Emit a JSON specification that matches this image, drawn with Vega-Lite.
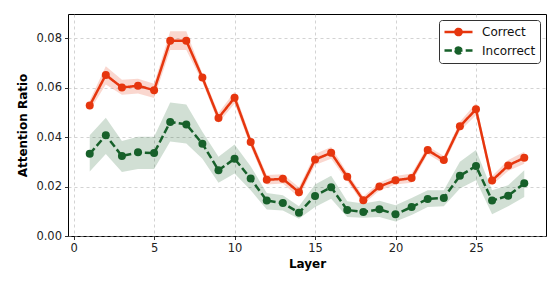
{
  "$schema": "https://vega.github.io/schema/vega-lite/v6.json",
  "width": 478,
  "height": 222,
  "autosize": "none",
  "padding": {"left": 68, "top": 14, "right": 14, "bottom": 53},
  "background": "white",
  "config": {
    "font": "DejaVu Sans",
    "view": {"stroke": "black", "strokeWidth": 1},
    "axis": {
      "labelFont": "DejaVu Sans", "labelFontSize": 11.5, "labelColor": "#222",
      "titleFont": "DejaVu Sans", "titleFontSize": 12, "titleFontWeight": "bold", "titleColor": "black",
      "domain": false, "tickColor": "black", "tickSize": 3.5, "tickWidth": 0.8,
      "grid": true, "gridColor": "#b0b0b0", "gridOpacity": 0.7, "gridDash": [3, 3], "gridWidth": 0.8,
      "labelPadding": 3
    },
    "legend": {
      "title": null, "orient": "top-right", "offset": 6,
      "symbolType": "M-1,0L1,0M-0.22,0A0.22,0.22 0 1,0 0.22,0A0.22,0.22 0 1,0 -0.22,0Z",
      "symbolSize": 784, "symbolStrokeWidth": 2.5, "symbolOpacity": 1,
      "labelFont": "DejaVu Sans", "labelFontSize": 12, "labelColor": "#111",
      "clipHeight": 16, "padding": 4, "rowPadding": 2.5, "labelOffset": 8,
      "strokeColor": "#333", "fillColor": "white", "cornerRadius": 3
    }
  },
  "data": {"values": [
    {"layer": 1, "series": "Correct", "mean": 0.0527, "lo": 0.0507, "hi": 0.0547},
    {"layer": 2, "series": "Correct", "mean": 0.0651, "lo": 0.0612, "hi": 0.0686},
    {"layer": 3, "series": "Correct", "mean": 0.0600, "lo": 0.0571, "hi": 0.0631},
    {"layer": 4, "series": "Correct", "mean": 0.0607, "lo": 0.0576, "hi": 0.0635},
    {"layer": 5, "series": "Correct", "mean": 0.0589, "lo": 0.0558, "hi": 0.0615},
    {"layer": 6, "series": "Correct", "mean": 0.0789, "lo": 0.0752, "hi": 0.0827},
    {"layer": 7, "series": "Correct", "mean": 0.0789, "lo": 0.0752, "hi": 0.0827},
    {"layer": 8, "series": "Correct", "mean": 0.0640, "lo": 0.0622, "hi": 0.0657},
    {"layer": 9, "series": "Correct", "mean": 0.0477, "lo": 0.0457, "hi": 0.0497},
    {"layer": 10, "series": "Correct", "mean": 0.0559, "lo": 0.0535, "hi": 0.0583},
    {"layer": 11, "series": "Correct", "mean": 0.0380, "lo": 0.0361, "hi": 0.0399},
    {"layer": 12, "series": "Correct", "mean": 0.0227, "lo": 0.0208, "hi": 0.0246},
    {"layer": 13, "series": "Correct", "mean": 0.0231, "lo": 0.0212, "hi": 0.0250},
    {"layer": 14, "series": "Correct", "mean": 0.0177, "lo": 0.0157, "hi": 0.0197},
    {"layer": 15, "series": "Correct", "mean": 0.0309, "lo": 0.0287, "hi": 0.0331},
    {"layer": 16, "series": "Correct", "mean": 0.0336, "lo": 0.0312, "hi": 0.0360},
    {"layer": 17, "series": "Correct", "mean": 0.0239, "lo": 0.0222, "hi": 0.0256},
    {"layer": 18, "series": "Correct", "mean": 0.0144, "lo": 0.0128, "hi": 0.0160},
    {"layer": 19, "series": "Correct", "mean": 0.0200, "lo": 0.0184, "hi": 0.0216},
    {"layer": 20, "series": "Correct", "mean": 0.0225, "lo": 0.0208, "hi": 0.0242},
    {"layer": 21, "series": "Correct", "mean": 0.0234, "lo": 0.0215, "hi": 0.0253},
    {"layer": 22, "series": "Correct", "mean": 0.0347, "lo": 0.0331, "hi": 0.0363},
    {"layer": 23, "series": "Correct", "mean": 0.0307, "lo": 0.0291, "hi": 0.0323},
    {"layer": 24, "series": "Correct", "mean": 0.0443, "lo": 0.0424, "hi": 0.0462},
    {"layer": 25, "series": "Correct", "mean": 0.0512, "lo": 0.0488, "hi": 0.0536},
    {"layer": 26, "series": "Correct", "mean": 0.0224, "lo": 0.0206, "hi": 0.0242},
    {"layer": 27, "series": "Correct", "mean": 0.0285, "lo": 0.0263, "hi": 0.0307},
    {"layer": 28, "series": "Correct", "mean": 0.0316, "lo": 0.0292, "hi": 0.0340},
    {"layer": 1, "series": "Incorrect", "mean": 0.0332, "lo": 0.0261, "hi": 0.0407},
    {"layer": 2, "series": "Incorrect", "mean": 0.0407, "lo": 0.0331, "hi": 0.0478},
    {"layer": 3, "series": "Incorrect", "mean": 0.0323, "lo": 0.0259, "hi": 0.0384},
    {"layer": 4, "series": "Incorrect", "mean": 0.0338, "lo": 0.0271, "hi": 0.0401},
    {"layer": 5, "series": "Incorrect", "mean": 0.0335, "lo": 0.0271, "hi": 0.0401},
    {"layer": 6, "series": "Incorrect", "mean": 0.0461, "lo": 0.0382, "hi": 0.0539},
    {"layer": 7, "series": "Incorrect", "mean": 0.0451, "lo": 0.0374, "hi": 0.0531},
    {"layer": 8, "series": "Incorrect", "mean": 0.0373, "lo": 0.0312, "hi": 0.0421},
    {"layer": 9, "series": "Incorrect", "mean": 0.0266, "lo": 0.0215, "hi": 0.0320},
    {"layer": 10, "series": "Incorrect", "mean": 0.0312, "lo": 0.0253, "hi": 0.0370},
    {"layer": 11, "series": "Incorrect", "mean": 0.0232, "lo": 0.0185, "hi": 0.0282},
    {"layer": 12, "series": "Incorrect", "mean": 0.0143, "lo": 0.0107, "hi": 0.0174},
    {"layer": 13, "series": "Incorrect", "mean": 0.0133, "lo": 0.0103, "hi": 0.0165},
    {"layer": 14, "series": "Incorrect", "mean": 0.0094, "lo": 0.0070, "hi": 0.0120},
    {"layer": 15, "series": "Incorrect", "mean": 0.0162, "lo": 0.0117, "hi": 0.0208},
    {"layer": 16, "series": "Incorrect", "mean": 0.0197, "lo": 0.0151, "hi": 0.0243},
    {"layer": 17, "series": "Incorrect", "mean": 0.0105, "lo": 0.0077, "hi": 0.0140},
    {"layer": 18, "series": "Incorrect", "mean": 0.0097, "lo": 0.0074, "hi": 0.0131},
    {"layer": 19, "series": "Incorrect", "mean": 0.0108, "lo": 0.0077, "hi": 0.0142},
    {"layer": 20, "series": "Incorrect", "mean": 0.0088, "lo": 0.0059, "hi": 0.0124},
    {"layer": 21, "series": "Incorrect", "mean": 0.0117, "lo": 0.0085, "hi": 0.0154},
    {"layer": 22, "series": "Incorrect", "mean": 0.0150, "lo": 0.0117, "hi": 0.0185},
    {"layer": 23, "series": "Incorrect", "mean": 0.0154, "lo": 0.0120, "hi": 0.0185},
    {"layer": 24, "series": "Incorrect", "mean": 0.0243, "lo": 0.0192, "hi": 0.0300},
    {"layer": 25, "series": "Incorrect", "mean": 0.0283, "lo": 0.0225, "hi": 0.0347},
    {"layer": 26, "series": "Incorrect", "mean": 0.0143, "lo": 0.0088, "hi": 0.0185},
    {"layer": 27, "series": "Incorrect", "mean": 0.0163, "lo": 0.0120, "hi": 0.0205},
    {"layer": 28, "series": "Incorrect", "mean": 0.0213, "lo": 0.0158, "hi": 0.0266}
  ]},
  "encoding": {
    "x": {"field": "layer", "type": "quantitative",
      "scale": {"domain": [-0.35, 29.35], "nice": false, "zero": false},
      "axis": {"values": [0, 5, 10, 15, 20, 25], "title": "Layer", "format": "d", "titlePadding": 4}},
    "color": {"field": "series", "type": "nominal",
      "scale": {"domain": ["Correct", "Incorrect"], "range": ["#e6360e", "#17602a"]}}
  },
  "layer": [
    {
      "mark": {"type": "area", "opacity": 0.2, "interpolate": "linear"},
      "encoding": {
        "y": {"field": "lo", "type": "quantitative",
          "scale": {"domain": [0, 0.0897], "nice": false},
          "axis": {"values": [0, 0.02, 0.04, 0.06, 0.08], "format": ".2f", "title": "Attention Ratio", "titlePadding": 6}},
        "y2": {"field": "hi"}
      }
    },
    {
      "mark": {"type": "line", "strokeWidth": 2.5},
      "encoding": {
        "y": {"field": "mean", "type": "quantitative"},
        "strokeDash": {"field": "series", "type": "nominal",
          "scale": {"domain": ["Correct", "Incorrect"], "range": [[1, 0], [7.4, 3.2]]}}
      }
    },
    {
      "mark": {"type": "point", "filled": true, "size": 64, "opacity": 1},
      "encoding": {
        "y": {"field": "mean", "type": "quantitative"}
      }
    }
  ]
}
